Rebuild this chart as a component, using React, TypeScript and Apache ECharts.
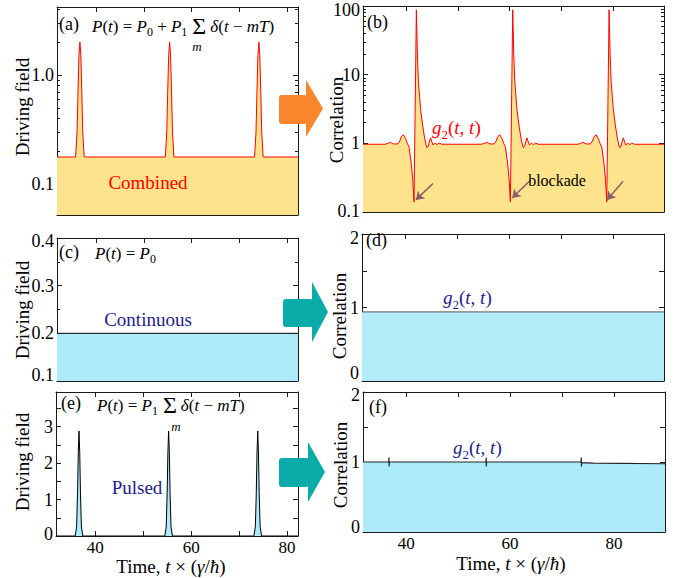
import React, { useEffect, useRef } from 'react';
import * as echarts from 'echarts';

// ---------------- data ----------------
const xRangeLeft = [31.8, 82.3];
const xRangeRight = [31.7, 89.8];
const xTickLabels = [40, 60, 80];

// (a) combined driving field (log scale)
const baseA = 0.177;
const pulseCentersA = [36.6, 55.4, 74.1];
const pulseOffsetsA = [-0.9, -0.6, -0.4, -0.2, 0, 0.2, 0.4, 0.6, 0.9];
const pulseValuesA = [0.177, 0.3, 0.7, 1.5, 2.0, 1.5, 0.7, 0.3, 0.177];

// (b) g2(t,t) for the combined drive (log scale)
const baseB = 0.97;
const g2CentersB = [42.0, 60.6, 79.2];
const g2OffsetsB = [-6.0, -5.5, -5.0, -4.4, -3.6, -3.2, -2.9, -2.5, -2.1, -1.75, -1.4, -1.0, -0.7, -0.45, 0, 0.2, 0.4, 0.8, 1.2, 1.6, 2.0, 2.3, 2.5, 2.75, 3.0, 3.2, 3.6, 4.0, 4.4, 4.9];
const g2ValuesB = [0.97, 1.0, 1.03, 0.98, 0.98, 1.08, 1.25, 1.33, 1.18, 1.0, 0.88, 0.52, 0.3, 0.14, 88, 20, 7.9, 3.2, 1.85, 1.18, 0.87, 0.9, 1.05, 1.2, 1.05, 0.95, 1.0, 0.96, 1.01, 0.97];
const blockadeArrowsB = [
  [[45.2, 0.26], [41.9, 0.15]],
  [[64.0, 0.29], [60.5, 0.16]],
  [[81.9, 0.28], [78.8, 0.15]],
];

// (c) continuous drive
const levelC = 0.2;
// (d) g2 for continuous drive
const levelD = 0.94;

// (e) pulsed drive
const baseE = 0;
const pulseCentersE = [36.6, 55.3, 73.9];
const pulseOffsetsE = [-0.8, -0.5, -0.3, -0.15, 0, 0.15, 0.3, 0.5, 0.8];
const pulseValuesE = [0, 0.25, 1.2, 2.3, 2.88, 2.3, 1.2, 0.25, 0];

// (f) g2 for pulsed drive
const g2TimesF = [31.7, 36.65, 36.7, 36.72, 36.77, 55.35, 55.4, 55.42, 55.47, 73.65, 73.7, 73.72, 73.77, 76, 89.8];
const g2ValuesF = [1.0, 1.0, 1.065, 0.935, 1.0, 1.0, 1.065, 0.935, 1.0, 1.0, 1.065, 0.935, 0.99, 0.985, 0.975];

// ---------------- helpers ----------------
const FONT = 'Liberation Serif, DejaVu Serif, serif';
const AX = '#1a1a1a';
const YELLOW = '#FEE38C';
const CYAN = '#ADEBFB';
const NAVY = '#1C1C8C';
const RED = '#FF0000';

function withPulses(base: number, centers: number[], offsets: number[], values: number[], range: number[]) {
  const pts: number[][] = [[range[0], base]];
  centers.forEach((c) => offsets.forEach((o, k) => pts.push([c + o, values[k]])));
  pts.push([range[1], base]);
  return pts;
}

const isDecade = (v: number) => {
  const l = Math.log10(v);
  return Math.abs(l - Math.round(l)) < 1e-6;
};
const fmtLogA = (v: number) => (isDecade(v) ? (v >= 1 ? v.toFixed(1) : String(+v.toPrecision(1))) : '');
const fmtLogB = (v: number) => (isDecade(v) ? (v >= 1 ? String(Math.round(v)) : String(+v.toPrecision(1))) : '');
const fmtInt = (v: number) => (Math.abs(v - Math.round(v)) < 1e-6 ? String(Math.round(v)) : '');
const fmtOne = (v: number) => v.toFixed(1);
const fmtX = (v: number) => (xTickLabels.some((t) => Math.abs(t - v) < 1e-6) ? String(Math.round(v)) : '');

type Panel = {
  grid: any;
  x: number[];
  xLabels: boolean;
  y: any;
  yFmt: (v: number) => string;
  minor: number;
  loShift: number;
  hiShift: number;
};

const panels: Panel[] = [
  { grid: { left: 57, top: 7, width: 241, height: 208 }, x: xRangeLeft, xLabels: false, y: { type: 'log', logBase: 10, min: 0.052, max: 4.2 }, yFmt: fmtLogA, minor: 9, loShift: 0, hiShift: 0 },
  { grid: { left: 363, top: 6, width: 301, height: 206 }, x: xRangeRight, xLabels: false, y: { type: 'log', logBase: 10, min: 0.1, max: 100 }, yFmt: fmtLogB, minor: 9, loShift: 1, hiShift: 4 },
  { grid: { left: 57, top: 238, width: 241, height: 143 }, x: xRangeLeft, xLabels: false, y: { type: 'value', min: 0.1, max: 0.4, interval: 0.1 }, yFmt: fmtOne, minor: 2, loShift: 6, hiShift: 3 },
  { grid: { left: 362, top: 234, width: 302, height: 147 }, x: xRangeRight, xLabels: false, y: { type: 'value', min: 0, max: 2, interval: 0.5 }, yFmt: fmtInt, minor: 0, loShift: 8, hiShift: 4 },
  { grid: { left: 56, top: 392, width: 242, height: 144 }, x: xRangeLeft, xLabels: true, y: { type: 'value', min: 0, max: 3.95, interval: 0.5 }, yFmt: fmtInt, minor: 0, loShift: 2, hiShift: 0 },
  { grid: { left: 363, top: 392, width: 302, height: 140 }, x: xRangeRight, xLabels: true, y: { type: 'value', min: 0, max: 2, interval: 0.5 }, yFmt: fmtInt, minor: 0, loShift: 5, hiShift: 3 },
];

function axisCommon() {
  return {
    splitLine: { show: false },
    axisLine: { show: true, onZero: false, lineStyle: { color: AX, width: 1 } },
    axisTick: { show: true, inside: true, length: 5, lineStyle: { color: AX } },
  };
}

function edgeFormatter(p: Panel) {
  return (v: number) => {
    const t = p.yFmt(v);
    if (!t) return '';
    const span = p.y.max - p.y.min;
    if (p.loShift && Math.abs(v - p.y.min) < span * 1e-4) return `{lo|${t}}`;
    if (p.hiShift && Math.abs(v - p.y.max) < span * 1e-4) return `{hi|${t}}`;
    return t;
  };
}

function buildAxes() {
  const xAxis: any[] = [];
  const yAxis: any[] = [];
  panels.forEach((p, gi) => {
    const xc = { type: 'value', gridIndex: gi, min: p.x[0], max: p.x[1], splitNumber: 5, ...axisCommon() };
    xAxis.push({
      ...xc,
      position: 'bottom',
      axisLabel: { show: p.xLabels, formatter: fmtX, fontFamily: FONT, fontSize: 17, color: '#000', margin: 3 },
    });
    xAxis.push({ ...xc, position: 'top', axisLabel: { show: false } });
    const minorTick = p.minor
      ? { show: true, splitNumber: p.minor, length: 3, lineStyle: { color: AX } }
      : { show: false };
    const yc = { gridIndex: gi, ...p.y, ...axisCommon(), minorTick, minorSplitLine: { show: false } };
    const lab = { fontFamily: FONT, fontSize: 18, color: '#000' };
    yAxis.push({
      ...yc,
      position: 'left',
      axisLabel: {
        show: true, formatter: edgeFormatter(p), ...lab, margin: 3,
        rich: {
          lo: { ...lab, padding: [0, 0, 2 * p.loShift, 0] },
          hi: { ...lab, padding: [2 * p.hiShift, 0, 0, 0] },
        },
      },
    });
    yAxis.push({ ...yc, position: 'right', axisLabel: { show: false } });
  });
  return { xAxis, yAxis };
}

function mathRich(size: number, color: string, lhf: number) {
  const lh = Math.round(size * lhf);
  const s = Math.round(size * 0.7);
  return {
    i: { fontFamily: FONT, fontStyle: 'italic', fontSize: size, lineHeight: lh, fill: color },
    r: { fontFamily: FONT, fontSize: size, lineHeight: lh, fill: color },
    s: { fontFamily: FONT, fontSize: s, lineHeight: s, verticalAlign: 'bottom', fill: color },
    big: { fontFamily: FONT, fontSize: Math.round(size * 1.4), lineHeight: lh, fill: color, padding: [0, 4, 0, 5] },
  };
}

function mathText(x: number, y: number, text: string, size: number, color: string, align = 'left', lhf = 1.4) {
  return {
    type: 'text',
    x,
    y,
    z: 100,
    silent: true,
    style: { text, rich: mathRich(size, color, lhf), fontFamily: FONT, fontSize: size, fill: color, align, verticalAlign: 'middle' },
  };
}

function plainText(x: number, y: number, text: string, size: number, color: string, align = 'left', rotation = 0, italic = false) {
  return {
    type: 'text',
    x,
    y,
    rotation,
    z: 100,
    silent: true,
    style: { text, fontFamily: FONT, fontSize: size, fill: color, align, verticalAlign: 'middle', fontStyle: italic ? 'italic' : 'normal' },
  };
}

function blockArrow(bx0: number, by0: number, bx1: number, by1: number, hx: number, hy0: number, hy1: number, tip: number, color: string) {
  return [
    { type: 'rect', z: 90, silent: true, shape: { x: bx0, y: by0, width: bx1 - bx0, height: by1 - by0, r: 3 }, style: { fill: color } },
    { type: 'polygon', z: 90, silent: true, shape: { points: [[hx, hy0], [tip, (hy0 + hy1) / 2], [hx, hy1]] }, style: { fill: color } },
  ];
}

const formulaA = '{i|P}{r|(}{i|t}{r|) = }{i|P}{s|0}{r| + }{i|P}{s|1}{big|Σ}{i|δ}{r|(}{i|t}{r| − }{i|mT}{r|)}';
const formulaC = '{i|P}{r|(}{i|t}{r|) = }{i|P}{s|0}';
const formulaE = '{i|P}{r|(}{i|t}{r|) = }{i|P}{s|1}{big|Σ}{i|δ}{r|(}{i|t}{r| − }{i|mT}{r|)}';
const g2Text = '{i|g}{s|2}{r|(}{i|t}{r|, }{i|t}{r|)}';
const timeText = '{r|Time, }{i|t}{r| × (}{i|γ}{r|/}{i|ħ}{r|)}';

function buildOption() {
  const { xAxis, yAxis } = buildAxes();
  const seriesBase = { type: 'line', showSymbol: false, symbol: 'none', silent: true, animation: false };

  const series: any[] = [
    {
      ...seriesBase, xAxisIndex: 0, yAxisIndex: 0,
      data: withPulses(baseA, pulseCentersA, pulseOffsetsA, pulseValuesA, xRangeLeft),
      lineStyle: { color: RED, width: 1 }, areaStyle: { color: YELLOW, opacity: 1, origin: 'start' },
    },
    {
      ...seriesBase, xAxisIndex: 2, yAxisIndex: 2,
      data: withPulses(baseB, g2CentersB, g2OffsetsB, g2ValuesB, xRangeRight),
      lineStyle: { color: RED, width: 1 }, areaStyle: { color: YELLOW, opacity: 1, origin: 'start' },
      markLine: {
        silent: true, animation: false, label: { show: false },
        symbol: ['none', 'arrow'], symbolSize: 8,
        lineStyle: { color: '#8a5c66', width: 1.5, type: 'solid' },
        data: blockadeArrowsB.map(([s, e]) => [{ coord: s }, { coord: e }]),
      },
    },
    {
      ...seriesBase, xAxisIndex: 4, yAxisIndex: 4,
      data: [[xRangeLeft[0], levelC], [xRangeLeft[1], levelC]],
      lineStyle: { color: '#000', width: 1 }, areaStyle: { color: CYAN, opacity: 1, origin: 'start' },
    },
    {
      ...seriesBase, xAxisIndex: 6, yAxisIndex: 6,
      data: [[xRangeRight[0], levelD], [xRangeRight[1], levelD]],
      lineStyle: { color: '#555', width: 1 }, areaStyle: { color: '#B3EDFA', opacity: 1, origin: 'start' },
    },
    {
      ...seriesBase, xAxisIndex: 8, yAxisIndex: 8,
      data: withPulses(baseE, pulseCentersE, pulseOffsetsE, pulseValuesE, xRangeLeft),
      lineStyle: { color: '#000', width: 1 }, areaStyle: { color: CYAN, opacity: 1, origin: 'start' },
    },
    {
      ...seriesBase, xAxisIndex: 10, yAxisIndex: 10,
      data: g2TimesF.map((t, k) => [t, g2ValuesF[k]]),
      lineStyle: { color: '#222', width: 1.2 }, areaStyle: { color: CYAN, opacity: 1, origin: 'start' },
    },
  ];

  const graphic: any[] = [
    ...blockArrow(279, 95, 307, 124, 306, 80, 137, 323, '#F8862C'),
    ...blockArrow(283, 299, 313, 327, 312, 282, 342, 328, '#0AABA9'),
    ...blockArrow(279, 458, 309, 487, 308, 442, 502, 325, '#0AABA9'),

    plainText(59, 24, '(a)', 18, '#000'),
    plainText(367, 22, '(b)', 18, '#000'),
    plainText(59, 252, '(c)', 18, '#000'),
    plainText(366, 240, '(d)', 18, '#000'),
    plainText(61, 403, '(e)', 18, '#000'),
    plainText(369, 407, '(f)', 18, '#000'),

    mathText(92, 26, formulaA, 17, '#000'),
    plainText(197, 46, 'm', 13, '#000', 'center', 0, true),
    mathText(95, 253, formulaC, 17, '#000'),
    mathText(97, 405, formulaE, 17, '#000'),
    plainText(176, 426, 'm', 13, '#000', 'center', 0, true),

    plainText(148, 182, 'Combined', 19, RED, 'center'),
    plainText(148, 319, 'Continuous', 19, NAVY, 'center'),
    plainText(137, 487, 'Pulsed', 19, NAVY, 'center'),
    plainText(557, 180, 'blockade', 16, '#000', 'center'),

    mathText(432, 127, g2Text, 19, RED),
    mathText(443, 297, g2Text, 19, NAVY),
    mathText(453, 447, g2Text, 19, NAVY),

    plainText(22, 107, 'Driving field', 19, '#000', 'center', Math.PI / 2),
    plainText(22, 310, 'Driving field', 19, '#000', 'center', Math.PI / 2),
    plainText(22, 462, 'Driving field', 19, '#000', 'center', Math.PI / 2),
    plainText(336, 120, 'Correlation', 19, '#000', 'center', Math.PI / 2),
    plainText(339, 316, 'Correlation', 19, '#000', 'center', Math.PI / 2),
    plainText(340, 465, 'Correlation', 19, '#000', 'center', Math.PI / 2),

    mathText(171, 566, timeText, 19, '#000', 'center', 1.05),
    mathText(511, 563, timeText, 19, '#000', 'center', 1.05),
  ];

  return {
    animation: false,
    backgroundColor: '#fff',
    grid: panels.map((p) => ({ ...p.grid, containLabel: false })),
    xAxis,
    yAxis,
    series,
    graphic,
  };
}

export default function App() {
  const ref = useRef<HTMLDivElement>(null);
  useEffect(() => {
    if (!ref.current) return;
    const chart = echarts.init(ref.current, null, { renderer: 'svg' });
    chart.setOption(buildOption() as any);
    return () => chart.dispose();
  }, []);
  return <div ref={ref} style={{ position: 'absolute', left: 0, top: 0, width: 696, height: 578 }} />;
}
